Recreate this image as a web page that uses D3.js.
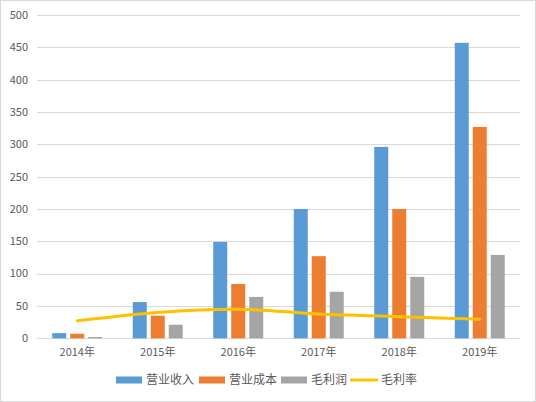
<!DOCTYPE html>
<html>
<head>
<meta charset="utf-8">
<script src="https://cdn.jsdelivr.net/npm/d3@7"></script>
<style>
  body { margin: 0; background: #fff; }
  text { font-family: "Noto Sans CJK SC", "Microsoft YaHei", sans-serif; fill: #595959; }
</style>
</head>
<body>
<div id="container"></div>
<script>
let years = ["2014年", "2015年", "2016年", "2017年", "2018年", "2019年"];
let revenue = [8, 56, 149, 200, 296, 457];
let cost = [7, 35, 84, 127, 200, 327];
let profit = [2, 21, 64, 72, 95, 129];
let margin = [27, 40, 45, 37.5, 33.5, 29.5];
let yTicks = [0, 50, 100, 150, 200, 250, 300, 350, 400, 450, 500];

let barSeries = [
  {name: "营业收入", values: revenue, color: "#5B9BD5"},
  {name: "营业成本", values: cost, color: "#ED7D31"},
  {name: "毛利润", values: profit, color: "#A5A5A5"}
];

let width = 536, height = 402;
let plotLeft = 37, plotRight = 520, plotTop = 15, plotBottom = 338.3;

let svg = d3.select("#container")
  .append("svg")
    .attr("width", width)
    .attr("height", height)
;

svg.append("rect")
  .attr("x", 0.5).attr("y", 0.5)
  .attr("width", width - 1).attr("height", height - 1)
  .attr("fill", "#fff")
  .attr("stroke", "#d9d9d9")
;

let x = d3.scaleBand().domain(years).range([plotLeft, plotRight]);
let y = d3.scaleLinear().domain([0, 500]).range([plotBottom, plotTop]);

// gridlines
svg.selectAll(".grid").data(yTicks).enter()
  .append("line")
    .attr("x1", plotLeft).attr("x2", plotRight)
    .attr("y1", d => Math.round(y(d)) + 0.5)
    .attr("y2", d => Math.round(y(d)) + 0.5)
    .attr("stroke", "#d9d9d9")
;

// y tick labels
svg.selectAll(".ylab").data(yTicks).enter()
  .append("text")
    .attr("x", 28)
    .attr("y", d => y(d))
    .attr("dy", "0.35em")
    .attr("text-anchor", "end")
    .attr("font-size", 11)
    .text(d => d)
;

// x labels
svg.selectAll(".xlab").data(years).enter()
  .append("text")
    .attr("x", d => x(d) + x.bandwidth() / 2)
    .attr("y", 356)
    .attr("text-anchor", "middle")
    .attr("font-size", 11)
    .text(d => d)
;

let barW = 14, gap = 4;
barSeries.forEach(function(s, k) {
  svg.selectAll(".bar" + k).data(s.values).enter()
    .append("rect")
      .attr("x", (d, i) => x(years[i]) + x.bandwidth() / 2 - 1.5 * barW - gap + k * (barW + gap))
      .attr("y", d => y(d))
      .attr("width", barW)
      .attr("height", d => y(0) - y(d))
      .attr("fill", s.color)
  ;
});

let line = d3.line()
  .x((d, i) => x(years[i]) + x.bandwidth() / 2)
  .y(d => y(d))
  .curve(d3.curveCatmullRom.alpha(0.5));

svg.append("path")
  .attr("d", line(margin))
  .attr("fill", "none")
  .attr("stroke", "#FFC000")
  .attr("stroke-width", 3)
  .attr("stroke-linecap", "round")
;

// legend
let legend = [
  {name: "营业收入", color: "#5B9BD5", type: "bar", x: 116},
  {name: "营业成本", color: "#ED7D31", type: "bar", x: 199},
  {name: "毛利润", color: "#A5A5A5", type: "bar", x: 281},
  {name: "毛利率", color: "#FFC000", type: "line", x: 350}
];
let ly = 380;
legend.forEach(function(l) {
  if (l.type == "bar") {
    svg.append("rect")
      .attr("x", l.x).attr("y", ly - 3.5)
      .attr("width", 26).attr("height", 7)
      .attr("fill", l.color);
  } else {
    svg.append("line")
      .attr("x1", l.x).attr("x2", l.x + 28)
      .attr("y1", ly).attr("y2", ly)
      .attr("stroke", l.color).attr("stroke-width", 3);
  }
  svg.append("text")
    .attr("x", l.type == "bar" ? l.x + 30 : l.x + 31)
    .attr("y", ly)
    .attr("dy", "0.35em")
    .attr("font-size", 12)
    .text(l.name);
});
</script>
</body>
</html>
